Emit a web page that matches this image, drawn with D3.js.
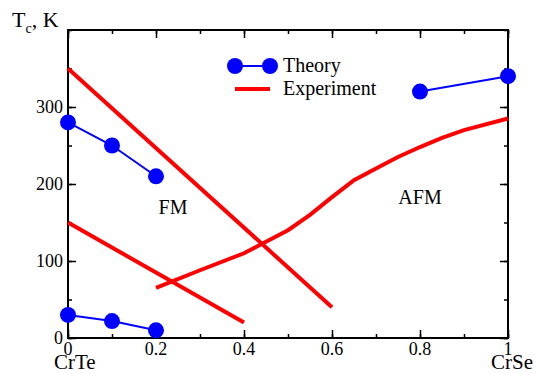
<!DOCTYPE html>
<html>
<head>
<meta charset="utf-8">
<script src="https://cdn.jsdelivr.net/npm/d3@7"></script>
<style>
  body { margin: 0; background: white; overflow: hidden; }
  svg { display: block; }
  text { font-family: "Liberation Serif", "DejaVu Serif", serif; }
</style>
</head>
<body>
<div id="chart"></div>
<script>
// theory points, three separate groups
var theoryHigh = [[0, 280], [0.1, 250], [0.2, 210]];
var theoryLow = [[0, 30], [0.1, 22], [0.2, 10]];
var theoryAfm = [[0.8, 320], [1, 340]];

// experiment lines
var expFmHigh = [[0, 350], [0.6, 40]];
var expFmLow = [[0, 150], [0.4, 20]];
var expAfm = [[0.2, 65], [0.3, 88], [0.4, 110], [0.45, 125], [0.5, 140], [0.55, 160],
  [0.6, 183], [0.65, 205], [0.7, 220], [0.75, 235], [0.8, 248], [0.85, 260],
  [0.9, 270], [1, 285]];

var xTicks = [0, 0.2, 0.4, 0.6, 0.8, 1];
var yTicks = [0, 100, 200, 300];

var w = 536, h = 374;
var m = {left: 68, right: 28, top: 30, bottom: 36};

var svg = d3.select("#chart").append("svg")
  .attr("width", w)
  .attr("height", h);

var x = d3.scaleLinear().domain([0, 1]).range([m.left, w - m.right]);
var y = d3.scaleLinear().domain([0, 400]).range([h - m.bottom, m.top]);

// frame
svg.append("rect")
  .attr("x", x(0)).attr("y", y(400))
  .attr("width", x(1) - x(0)).attr("height", y(0) - y(400))
  .attr("fill", "none").attr("stroke", "black").attr("stroke-width", 2);

// ticks on all four sides, pointing inward
function addTicks(sel, axis) {
  sel.call(axis);
  sel.select(".domain").remove();
  sel.selectAll("line").attr("stroke", "black").attr("stroke-width", 1.5);
}
var xMinor = d3.range(0, 1.01, 0.1);
var yMinor = d3.range(0, 401, 50);

addTicks(svg.append("g").attr("transform", "translate(0," + y(0) + ")"),
  d3.axisBottom(x).tickValues(xMinor).tickSize(-4).tickFormat(""));
addTicks(svg.append("g").attr("transform", "translate(0," + y(0) + ")"),
  d3.axisBottom(x).tickValues(xTicks).tickSize(-8).tickFormat(""));
addTicks(svg.append("g").attr("transform", "translate(0," + y(400) + ")"),
  d3.axisTop(x).tickValues(xMinor).tickSize(-4).tickFormat(""));
addTicks(svg.append("g").attr("transform", "translate(0," + y(400) + ")"),
  d3.axisTop(x).tickValues(xTicks).tickSize(-8).tickFormat(""));
addTicks(svg.append("g").attr("transform", "translate(" + x(0) + ",0)"),
  d3.axisLeft(y).tickValues(yMinor).tickSize(-4).tickFormat(""));
addTicks(svg.append("g").attr("transform", "translate(" + x(0) + ",0)"),
  d3.axisLeft(y).tickValues(yTicks).tickSize(-8).tickFormat(""));
addTicks(svg.append("g").attr("transform", "translate(" + x(1) + ",0)"),
  d3.axisRight(y).tickValues(yMinor).tickSize(-4).tickFormat(""));
addTicks(svg.append("g").attr("transform", "translate(" + x(1) + ",0)"),
  d3.axisRight(y).tickValues(yTicks).tickSize(-8).tickFormat(""));

// tick labels
svg.selectAll(".xlab").data(xTicks).enter().append("text")
  .attr("x", function(d) { return x(d); })
  .attr("y", y(0) + 17)
  .attr("text-anchor", "middle")
  .attr("font-size", 18)
  .text(function(d) { return d3.format("")(d); });
svg.selectAll(".ylab").data(yTicks).enter().append("text")
  .attr("x", x(0) - 5)
  .attr("y", function(d) { return y(d) + 6; })
  .attr("text-anchor", "end")
  .attr("font-size", 18)
  .text(function(d) { return d; });

svg.append("text").attr("x", 54).attr("y", y(0) + 31)
  .attr("text-anchor", "start").attr("font-size", 21).text("CrTe");
svg.append("text").attr("x", 533).attr("y", y(0) + 31)
  .attr("text-anchor", "end").attr("font-size", 21).text("CrSe");

var tl = svg.append("text").attr("x", 12).attr("y", 27).attr("font-size", 22);
tl.append("tspan").text("T");
tl.append("tspan").attr("font-size", 14).attr("dy", 6).text("c");
tl.append("tspan").attr("dy", -6).text(", K");

svg.append("text").attr("x", 173).attr("y", 214).attr("text-anchor", "middle")
  .attr("font-size", 20).text("FM");
svg.append("text").attr("x", 420).attr("y", 204).attr("text-anchor", "middle")
  .attr("font-size", 20).text("AFM");

var line = d3.line().x(function(d) { return x(d[0]); }).y(function(d) { return y(d[1]); });

// experiment
[expFmHigh, expFmLow, expAfm].forEach(function(s) {
  svg.append("path").datum(s).attr("d", line)
    .attr("fill", "none").attr("stroke", "#ff0000").attr("stroke-width", 4);
});

// theory
[theoryHigh, theoryLow, theoryAfm].forEach(function(s) {
  svg.append("path").datum(s).attr("d", line)
    .attr("fill", "none").attr("stroke", "#0000ff").attr("stroke-width", 2);
  svg.selectAll(null).data(s).enter().append("circle")
    .attr("cx", function(d) { return x(d[0]); })
    .attr("cy", function(d) { return y(d[1]); })
    .attr("r", 8).attr("fill", "#0000ff");
});

// legend
var lg = svg.append("g");
lg.append("line").attr("x1", 235).attr("x2", 270).attr("y1", 66).attr("y2", 66)
  .attr("stroke", "#0000ff").attr("stroke-width", 2);
lg.selectAll("circle").data([235, 270]).enter().append("circle")
  .attr("cx", function(d) { return d; }).attr("cy", 66).attr("r", 8).attr("fill", "#0000ff");
lg.append("text").attr("x", 283).attr("y", 72).attr("font-size", 20).text("Theory");
lg.append("line").attr("x1", 235).attr("x2", 270).attr("y1", 89).attr("y2", 89)
  .attr("stroke", "#ff0000").attr("stroke-width", 4);
lg.append("text").attr("x", 283).attr("y", 95).attr("font-size", 20).text("Experiment");
</script>
</body>
</html>
